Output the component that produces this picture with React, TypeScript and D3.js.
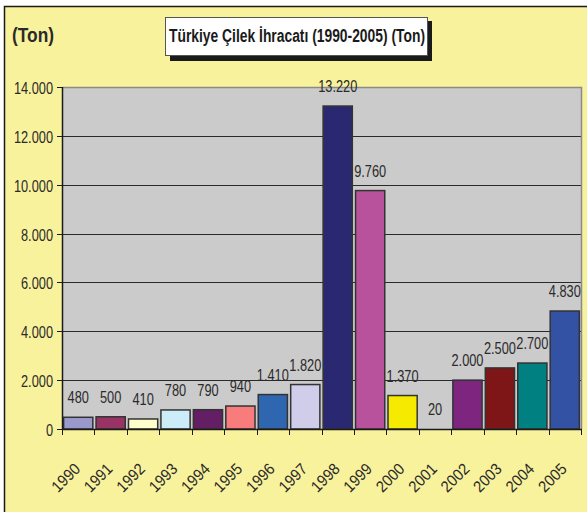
import React, { useEffect, useRef } from 'react'
import * as d3 from 'd3'

const years = ['1990', '1991', '1992', '1993', '1994', '1995', '1996', '1997', '1998', '1999', '2000', '2001', '2002', '2003', '2004', '2005']
const exports = [480, 500, 410, 780, 790, 940, 1410, 1820, 13220, 9760, 1370, 20, 2000, 2500, 2700, 4830]
const barColors = ['#9999CC', '#993366', '#FFFFCC', '#CCECF8', '#641E64', '#F87C7C', '#2E66B0', '#D0CDEB', '#2A2870', '#B8529C', '#F5EA00', '#C8C8C8', '#7E2580', '#7E1618', '#008080', '#3452A4']
const yTicks = [0, 2000, 4000, 6000, 8000, 10000, 12000, 14000]

const title = 'Türkiye Çilek İhracatı (1990-2005) (Ton)'
const unit = '(Ton)'

const App = () => {
  const svgRef = useRef<SVGSVGElement>(null)

  useEffect(() => {
    const width = 587
    const height = 512
    const left = 62
    const right = 581
    const top = 87
    const bottom = 429
    const font = "'Liberation Sans', Arial, sans-serif"

    const fmt = d3
      .formatLocale({ decimal: ',', thousands: '.', grouping: [3], currency: ['', ''] })
      .format(',d')

    const svg = d3.select(svgRef.current).attr('width', width).attr('height', height)
    svg.selectAll('*').remove()

    // dar yazı (Arial Narrow gibi) için yatay sıkıştırma
    const narrowText = (parent, tx, ty, str, anchor, rotate = 0, sx = 0.8) => {
      const g = parent.append('g').attr('transform', `translate(${tx}, ${ty}) rotate(${rotate}) scale(${sx}, 1)`)
      return g
        .append('text')
        .attr('text-anchor', anchor)
        .style('font-family', font)
        .style('font-size', '16px')
        .style('fill', '#2a2a2a')
        .text(str)
    }

    // arka plan + çerçeve
    svg.append('rect').attr('width', width).attr('height', height).attr('fill', '#ffffff')
    svg
      .append('rect')
      .attr('x', 4.5)
      .attr('y', 6.5)
      .attr('width', 700)
      .attr('height', 700)
      .attr('fill', '#F9F29C')
      .attr('stroke', '#1a1a1a')
      .attr('stroke-width', 1.5)

    const x = d3.scaleBand().domain(years).range([left, right]).paddingInner(0.1).paddingOuter(0.05)
    const y = d3.scaleLinear().domain([0, 14000]).range([bottom, top])

    // plot alanı
    svg
      .append('rect')
      .attr('x', left)
      .attr('y', top)
      .attr('width', right - left)
      .attr('height', bottom - top)
      .attr('fill', '#CBCBCB')

    svg
      .append('g')
      .selectAll('line')
      .data(yTicks.filter((d) => d > 0 && d < 14000))
      .enter()
      .append('line')
      .attr('x1', left)
      .attr('x2', right)
      .attr('y1', (d) => Math.round(y(d)) + 0.5)
      .attr('y2', (d) => Math.round(y(d)) + 0.5)
      .attr('stroke', '#2a2a2a')
      .attr('stroke-width', 1)

    // üst ve sağ kenar
    svg
      .append('path')
      .attr('d', `M${left},${top + 0.5}H${right + 0.5}V${bottom}`)
      .attr('fill', 'none')
      .attr('stroke', '#8a8a8a')
      .attr('stroke-width', 1.5)

    // barlar
    svg
      .append('g')
      .selectAll('rect')
      .data(exports)
      .enter()
      .append('rect')
      .attr('x', (d, i) => x(years[i]))
      .attr('y', (d) => y(d))
      .attr('width', x.bandwidth())
      .attr('height', (d) => bottom - y(d))
      .attr('fill', (d, i) => barColors[i])
      .attr('stroke', (d) => (d < 100 ? 'none' : '#333333'))
      .attr('stroke-width', 1.5)

    // değer etiketleri
    const labels = svg.append('g')
    exports.forEach((d, i) => {
      narrowText(labels, x(years[i]) + x.bandwidth() / 2, y(d) - 14, fmt(d), 'middle')
    })

    // y ekseni
    svg
      .append('line')
      .attr('x1', left + 0.5)
      .attr('x2', left + 0.5)
      .attr('y1', top)
      .attr('y2', bottom)
      .attr('stroke', '#1a1a1a')
      .attr('stroke-width', 1.5)

    const yAxis = svg.append('g')
    yTicks.forEach((t) => {
      const yy = Math.round(y(t)) + 0.5
      yAxis.append('line').attr('x1', left - 5).attr('x2', left).attr('y1', yy).attr('y2', yy).attr('stroke', '#1a1a1a')
      narrowText(yAxis, left - 9, yy + 6, fmt(t), 'end')
    })

    // x ekseni
    svg
      .append('line')
      .attr('x1', left)
      .attr('x2', right + 1)
      .attr('y1', bottom + 0.5)
      .attr('y2', bottom + 0.5)
      .attr('stroke', '#1a1a1a')
      .attr('stroke-width', 1.5)

    const step = x.step()
    const xAxis = svg.append('g')
    d3.range(years.length + 1).forEach((i) => {
      const xx = Math.round(i === years.length ? right : x(years[0]) - (step * x.paddingInner()) / 2 + i * step) + 0.5
      xAxis.append('line').attr('x1', xx).attr('x2', xx).attr('y1', bottom).attr('y2', bottom + 6).attr('stroke', '#1a1a1a')
    })
    years.forEach((yr) => {
      const cx = x(yr) + x.bandwidth() / 2 + 3
      narrowText(xAxis, cx, bottom + 41, yr, 'end', -45, 0.92)
    })

    // birim
    svg
      .append('text')
      .attr('x', 12)
      .attr('y', 42)
      .attr('textLength', 42)
      .attr('lengthAdjust', 'spacingAndGlyphs')
      .style('font-family', font)
      .style('font-size', '21px')
      .style('font-weight', 'bold')
      .style('fill', '#2a2a2a')
      .text(unit)

    // başlık kutusu
    svg.append('rect').attr('x', 170).attr('y', 21).attr('width', 262).attr('height', 40).attr('fill', '#1a1a1a')
    svg
      .append('rect')
      .attr('x', 165.5)
      .attr('y', 17.5)
      .attr('width', 262)
      .attr('height', 38)
      .attr('fill', '#ffffff')
      .attr('stroke', '#555555')
      .attr('stroke-width', 1)
    svg
      .append('text')
      .attr('x', 297)
      .attr('y', 42)
      .attr('text-anchor', 'middle')
      .attr('textLength', 256)
      .attr('lengthAdjust', 'spacingAndGlyphs')
      .style('font-family', font)
      .style('font-size', '18px')
      .style('font-weight', 'bold')
      .style('fill', '#1a1a1a')
      .text(title)
  }, [])

  return (
    <div style={{ position: 'absolute', left: 0, top: 0 }}>
      <svg ref={svgRef} style={{ display: 'block' }}></svg>
    </div>
  )
}

export default App
